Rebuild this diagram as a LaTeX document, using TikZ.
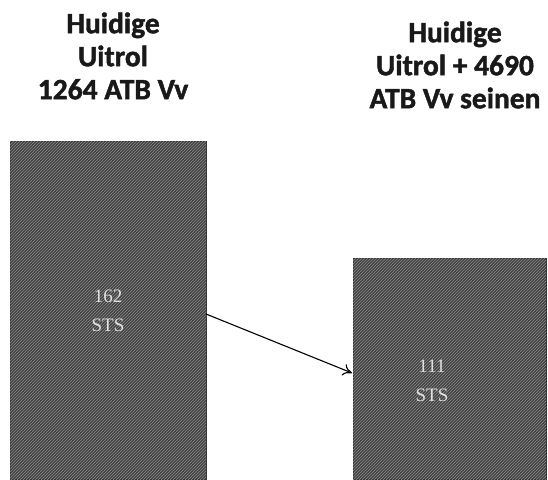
\documentclass[tikz,border=0pt]{standalone}
\usepackage{fontspec}
\setmainfont{Carlito}
\newfontfamily\headfont{Carlito}[BoldFeatures={FakeBold=1.5}]
\newfontfamily\boxfont{Liberation Serif}
\usetikzlibrary{patterns,arrows.meta}
\begin{document}
\begin{tikzpicture}[x=1pt,y=-1pt,
  hatchbox/.style={draw=black!80,line width=0.6pt,fill=black!74,
    postaction={pattern=north east lines,pattern color=black!45}},
  head/.style={font=\headfont\bfseries\fontsize{29.5}{33}\selectfont,align=center,text=black!90},
  boxtext/.style={font=\boxfont\fontsize{19}{29}\selectfont,align=center,text=white!88!black},
  conn/.style={-{To[length=9pt,width=12pt]},line width=1.1pt,black}]
\useasboundingbox (0,0) rectangle (548,479);
\path[hatchbox] (10,141) rectangle (206,479);
\path[hatchbox] (353,258) rectangle (546,479);
\coordinate (lboxe) at (206,314);
\coordinate (rboxw) at (352,373);
\node[head] (h1) at (113,56) {Huidige\\Uitrol\\1264 ATB Vv};
\node[head] (h2) at (455,65) {Huidige\\Uitrol + 4690\\ATB Vv seinen};
\node[boxtext] (t1) at (108,311) {162\\STS};
\node[boxtext] (t2) at (432,381) {111\\STS};
\draw[conn] (lboxe) -- (rboxw);
\end{tikzpicture}
\end{document}
